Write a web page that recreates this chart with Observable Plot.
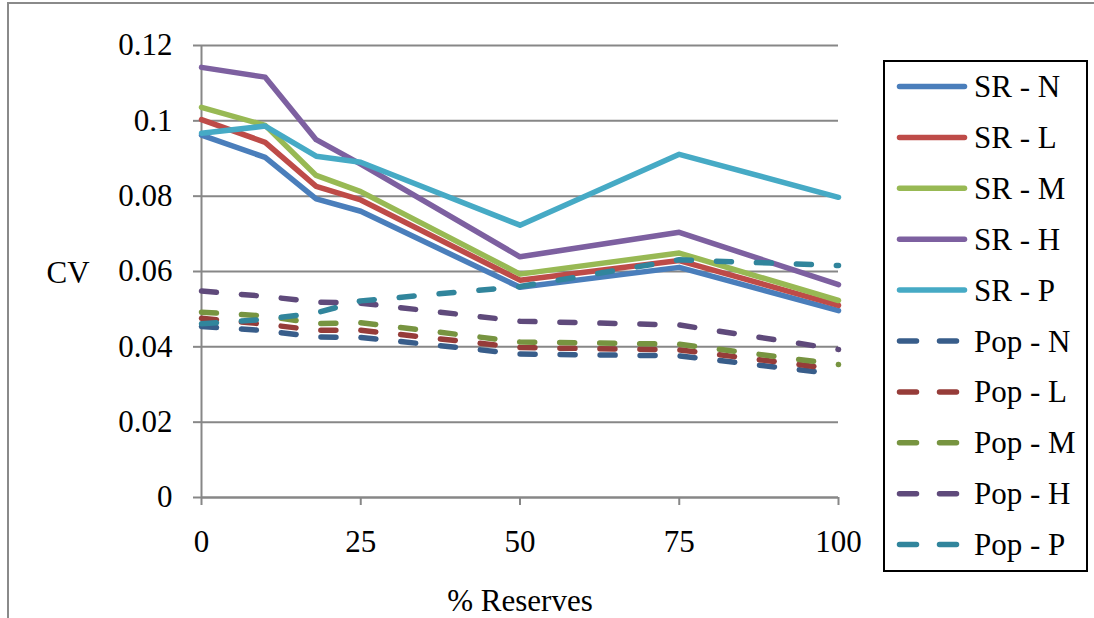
<!DOCTYPE html>
<html><head><meta charset="utf-8">
<script src="https://cdn.jsdelivr.net/npm/d3@7"></script>
<script src="https://cdn.jsdelivr.net/npm/@observablehq/plot@0.6"></script>
<style>
body{margin:0;background:#fff;}
#wrap{position:relative;width:1094px;height:618px;overflow:hidden;font-family:"Liberation Serif","Times New Roman",serif;color:#000;}
#frame{position:absolute;left:7px;top:2px;width:1200px;height:800px;border:2px solid #8a8a8a;box-sizing:border-box;}
#chart{position:absolute;left:0;top:0;}
.lab{position:absolute;font-size:31px;line-height:1;white-space:nowrap;transform:translate(-50%,-50%);}
#legend{position:absolute;left:883px;top:60px;width:205px;height:512px;border:2px solid #000;box-sizing:border-box;background:#fff;}
</style></head>
<body>
<div id="wrap">
  <div id="frame"></div>
  <div id="chart"></div>
  <div class="lab" style="left:68px;top:272px;">CV</div>
  <div class="lab" style="left:520px;top:600px;">% Reserves</div>
  <div id="legend"></div>
</div>
<script>
const reserves = [0, 10, 18, 25, 50, 75, 100];
const srN  = [0.0962, 0.0903, 0.0793, 0.0760, 0.0558, 0.0611, 0.0496];
const srL  = [0.1003, 0.0943, 0.0826, 0.0790, 0.0577, 0.0629, 0.0510];
const srM  = [0.1036, 0.0988, 0.0855, 0.0812, 0.0593, 0.0649, 0.0523];
const srH  = [0.1142, 0.1116, 0.0950, 0.0885, 0.0639, 0.0704, 0.0565];
const srP  = [0.0967, 0.0986, 0.0906, 0.0890, 0.0723, 0.0911, 0.0797];
const popN = [0.0454, 0.0443, 0.0426, 0.0425, 0.0381, 0.0376, 0.0327];
const popL = [0.0476, 0.0460, 0.0444, 0.0444, 0.0398, 0.0392, 0.0340];
const popM = [0.0492, 0.0482, 0.0462, 0.0464, 0.0413, 0.0407, 0.0353];
const popH = [0.0548, 0.0534, 0.0519, 0.0516, 0.0468, 0.0458, 0.0393];
const popP = [0.0461, 0.0473, 0.0490, 0.0522, 0.0560, 0.0631, 0.0616];

const seriesNames = ["SR - N","SR - L","SR - M","SR - H","SR - P","Pop - N","Pop - L","Pop - M","Pop - H","Pop - P"];
const seriesValues = [srN, srL, srM, srH, srP, popN, popL, popM, popH, popP];
const seriesColors = ["#4A7EBB","#BE4B48","#98B954","#7D60A0","#46AAC5","#385D8A","#963C39","#779440","#5F4A7B","#31859C"];
const xTicks = [0, 25, 50, 75, 100];
const yTicks = [0, 0.02, 0.04, 0.06, 0.08, 0.1, 0.12];

const rows = [];
seriesNames.forEach((name, i) => {
  seriesValues[i].forEach((v, j) => rows.push({series: name, pop: name.startsWith("Pop"), x: reserves[j], y: v}));
});
const srRows = rows.filter(d => !d.pop);
const popRows = rows.filter(d => d.pop);

const grid = "#878787";
const chart = Plot.plot({
  width: 1094, height: 618,
  marginLeft: 201, marginRight: 256, marginTop: 45, marginBottom: 121,
  style: {fontFamily: '"Liberation Serif","Times New Roman",serif', fontSize: "31px", color: "#000", background: "transparent", overflow: "visible"},
  x: {domain: [0, 100]},
  y: {domain: [0, 0.12]},
  color: {domain: seriesNames, range: seriesColors},
  marks: [
    Plot.gridY(yTicks, {stroke: grid, strokeOpacity: 1, strokeWidth: 2}),
    Plot.ruleX([0], {stroke: grid, strokeWidth: 2}),
    Plot.ruleY([0], {stroke: grid, strokeWidth: 2}),
    Plot.axisY(yTicks, {tickSize: 8, tickPadding: 21, stroke: grid, strokeWidth: 2, tickFormat: d => String(+d.toFixed(2)), label: null, fill: "#000"}),
    Plot.axisX(xTicks, {tickSize: 8, tickPadding: 24, stroke: grid, strokeWidth: 2, tickFormat: d => String(d), label: null, fill: "#000"}),
    Plot.line(srRows, {x: "x", y: "y", z: "series", stroke: "series", strokeWidth: 5.5, strokeLinejoin: "round", strokeLinecap: "round"}),
    Plot.line(popRows, {x: "x", y: "y", z: "series", stroke: "series", strokeWidth: 5.5, strokeLinejoin: "round", strokeLinecap: "round", strokeDasharray: "15,25"})
  ]
});
document.getElementById("chart").appendChild(chart);

// legend
const ns = "http://www.w3.org/2000/svg";
const lsvg = document.createElementNS(ns, "svg");
lsvg.setAttribute("width", 201); lsvg.setAttribute("height", 508);
lsvg.style.position = "absolute"; lsvg.style.left = "0"; lsvg.style.top = "0";
seriesNames.forEach((name, i) => {
  const cy = 24.5 + i * 50.9;
  const ln = document.createElementNS(ns, "line");
  const dashed = name.startsWith("Pop");
  ln.setAttribute("x1", 14.5); ln.setAttribute("x2", dashed ? 80 : 79.5);
  ln.setAttribute("y1", cy); ln.setAttribute("y2", cy);
  ln.setAttribute("stroke", seriesColors[i]); ln.setAttribute("stroke-width", 5.5);
  ln.setAttribute("stroke-linecap", "round");
  if (dashed) ln.setAttribute("stroke-dasharray", "17,23");
  lsvg.appendChild(ln);
  const t = document.createElementNS(ns, "text");
  t.setAttribute("x", 89); t.setAttribute("y", cy);
  t.setAttribute("dy", "0.34em");
  t.setAttribute("font-size", 31);
  t.setAttribute("font-family", '"Liberation Serif","Times New Roman",serif');
  t.textContent = name;
  lsvg.appendChild(t);
});
document.getElementById("legend").appendChild(lsvg);
</script>
</body></html>
